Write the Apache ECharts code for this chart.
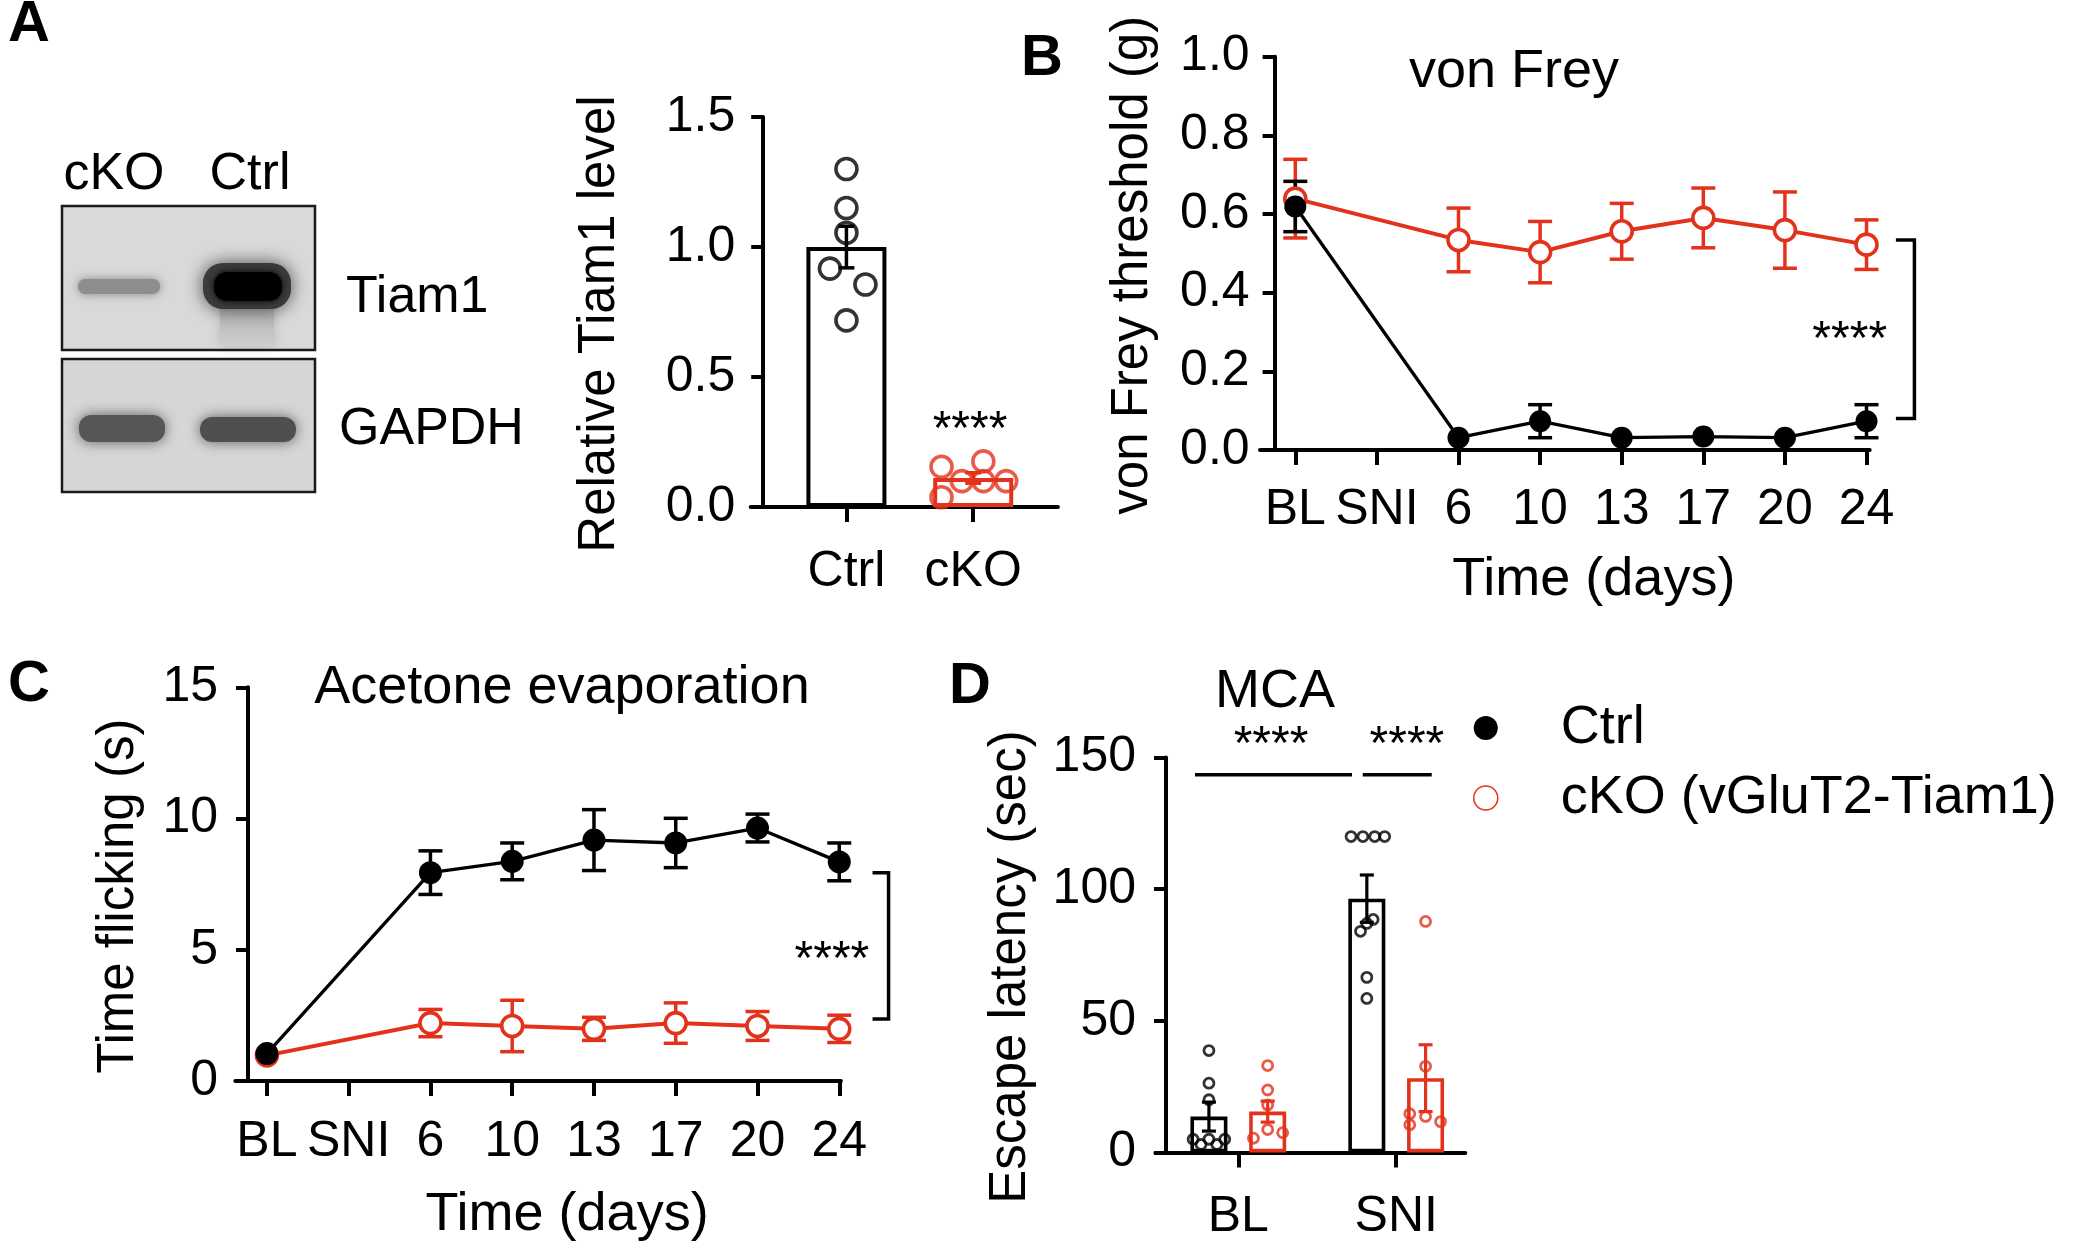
<!DOCTYPE html>
<html><head><meta charset="utf-8">
<script src="https://cdn.jsdelivr.net/npm/echarts@6/dist/echarts.min.js"></script>
<style>html,body{margin:0;padding:0;background:#fff}#c{width:2085px;height:1259px}</style>
</head><body><div id="c"></div>
<script>
// ---------- DATA ----------
// Panel A (relative Tiam1 level)
const aGroups = ['Ctrl', 'cKO'];
const aMeans = [1.0, 0.112];
const aSem = [0.08, 0.02];
const aCtrlPts = [1.30, 1.15, 1.055, 0.917, 0.856, 0.718];
const aCtrlJitter = [0, 0, 0, -0.13, 0.15, 0];
const aCkoPts = [0.155, 0.038, 0.10, 0.176, 0.10, 0.10];
const aCkoJitter = [-0.25, -0.25, -0.09, 0.08, 0.08, 0.26];
// Panels B, C (time course)
const days = ['BL', 'SNI', '6', '10', '13', '17', '20', '24'];
const bCtrl = [0.619, null, 0.031, 0.073, 0.031, 0.034, 0.031, 0.073];
const bCtrlSem = [0.064, null, 0, 0.042, 0, 0, 0, 0.042];
const bCko = [0.639, null, 0.534, 0.503, 0.556, 0.590, 0.559, 0.522];
const bCkoSem = [0.100, null, 0.081, 0.078, 0.071, 0.076, 0.097, 0.063];
const cCtrl = [1.05, null, 7.94, 8.37, 9.18, 9.07, 9.64, 8.35];
const cCtrlSem = [0, null, 0.83, 0.70, 1.16, 0.94, 0.53, 0.72];
const cCko = [0.98, null, 2.21, 2.10, 1.99, 2.21, 2.10, 1.99];
const cCkoSem = [0, null, 0.52, 0.98, 0.44, 0.77, 0.55, 0.52];
// Panel D (MCA escape latency)
const dGroups = ['BL', 'SNI'];
const dCtrlMean = [13.6, 96.4];
const dCtrlSem = [5.5, 9.0];
const dCkoMean = [15.5, 28.2];
const dCkoSem = [4.0, 12.7];
const dCtrlPts = [[38.7, 26.3, 20, 5, 5, 5, 3, 3], [120, 120, 120, 120, 88.5, 87, 84, 66.5, 58.5]];
const dCtrlJitter = [[0, 0, 0, -0.1, 0, 0.1, -0.05, 0.05], [-0.1, -0.025, 0.05, 0.113, 0.04, 0, -0.04, 0, 0]];
const dCkoPts = [[33, 23.7, 18, 5.4, 8.7, 7.5], [87.75, 32.7, 14.7, 10.5, 13.65, 11.7]];
const dCkoJitter = [[0, 0, 0, -0.09, 0, 0.095], [0, 0, -0.1, -0.1, 0, 0.095]];

// ---------- STYLE ----------
const RED = '#e3321c';
const FONT = '"Liberation Sans", Arial, Helvetica, sans-serif';
const DOFF = 0.186; // bar offset within a D group

function errBar(cap, colors, lw) {
  return function (params, api) {
    const x = api.value(0), m = api.value(1), s = api.value(2);
    if (!(s > 0)) return null;
    const t = api.coord([x, m + s]), b = api.coord([x, m - s]);
    const c = colors[params.dataIndex % colors.length];
    const st = { stroke: c, lineWidth: lw };
    return { type: 'group', children: [
      { type: 'line', shape: { x1: t[0], y1: t[1], x2: b[0], y2: b[1] }, style: st },
      { type: 'line', shape: { x1: t[0] - cap / 2, y1: t[1], x2: t[0] + cap / 2, y2: t[1] }, style: st },
      { type: 'line', shape: { x1: b[0] - cap / 2, y1: b[1], x2: b[0] + cap / 2, y2: b[1] }, style: st }
    ] };
  };
}
function sigText(params, api) {
  const p = api.coord([api.value(0), api.value(1)]);
  return { type: 'text', x: p[0], y: p[1] + 11, style: { text: '****', fontSize: 48, fontFamily: FONT, fill: '#000', align: 'center', verticalAlign: 'middle' } };
}
function bracket(params, api) {
  const a = api.coord([api.value(0), api.value(3)]);
  const l = api.coord([api.value(1), api.value(2)]);
  return { type: 'polyline', shape: { points: [[a[0], a[1]], [l[0], a[1]], [l[0], l[1]], [a[0], l[1]]] }, style: { stroke: '#000', lineWidth: 3.5, fill: null } };
}
function hLine(params, api) {
  const p1 = api.coord([api.value(0), api.value(2)]);
  const p2 = api.coord([api.value(1), api.value(2)]);
  return { type: 'line', shape: { x1: p1[0], y1: p1[1], x2: p2[0], y2: p2[1] }, style: { stroke: '#000', lineWidth: 3.5 } };
}
function yAx(grid, min, max, interval, offset, name, nameGap, fmt, margin) {
  return {
    type: 'value', gridIndex: grid, min: min, max: max, interval: interval, offset: offset,
    name: name, nameLocation: 'middle', nameGap: nameGap, nameMoveOverlap: false,
    nameTextStyle: { fontSize: 51, color: '#000', fontFamily: FONT, padding: [0, 24, 0, 0] },
    axisLine: { show: true, onZero: false, lineStyle: { color: '#000', width: 4 } },
    axisTick: { show: true, length: 12, lineStyle: { color: '#000', width: 4 } },
    axisLabel: { show: true, fontSize: 50, color: '#000', fontFamily: FONT, margin: margin, formatter: fmt },
    splitLine: { show: false }
  };
}
function xAx(grid, min, max, ticks, names, margin, name, nameGap) {
  return {
    type: 'value', gridIndex: grid, min: min, max: max,
    name: name || '', nameLocation: 'middle', nameGap: nameGap || 0, nameMoveOverlap: false,
    nameTextStyle: { fontSize: 54, color: '#000', fontFamily: FONT, padding: [0, 0, 0, 58] },
    axisLine: { show: true, onZero: false, lineStyle: { color: '#000', width: 4 } },
    axisTick: { show: true, length: 15, customValues: ticks, lineStyle: { color: '#000', width: 4 } },
    axisLabel: { show: true, customValues: ticks, fontSize: 50, color: '#000', fontFamily: FONT, margin: margin,
      formatter: v => names[Math.round(v)] },
    splitLine: { show: false }
  };
}
const pairs = (vals, sems) => vals.map((v, i) => v == null ? null : (sems ? [i, v, sems[i]] : [i, v])).filter(Boolean);
const idx = arr => arr.map((_, i) => i);

// ---------- blot (image-like panel, drawn as graphics) ----------
const blot = [
  { type: 'rect', shape: { x: 62, y: 206, width: 253, height: 144 }, style: { fill: '#d9d9d9' } },
  { type: 'rect', shape: { x: 62, y: 359, width: 253, height: 133 }, style: { fill: '#d6d6d6' } },
  // Tiam1 cKO band
  { type: 'rect', shape: { x: 78, y: 279, width: 82, height: 15, r: 7 }, style: { fill: '#8e8e8e', shadowBlur: 10, shadowColor: 'rgba(125,125,125,0.9)' } },
  // Tiam1 Ctrl smear + band
  { type: 'rect', shape: { x: 220, y: 298, width: 54, height: 48 }, style: { fill: { type: 'linear', x: 0, y: 0, x2: 0, y2: 1, colorStops: [{ offset: 0, color: '#a8a8a8' }, { offset: 1, color: '#cfcfcf' }] }, shadowBlur: 10, shadowColor: 'rgba(180,180,180,0.9)' } },
  { type: 'rect', shape: { x: 203, y: 263, width: 88, height: 46, r: 20 }, style: { fill: '#3a3a3a', shadowBlur: 18, shadowColor: 'rgba(60,60,60,0.9)' } },
  { type: 'rect', shape: { x: 214, y: 272, width: 68, height: 29, r: 13 }, style: { fill: '#000', shadowBlur: 6, shadowColor: '#000' } },
  // GAPDH bands
  { type: 'rect', shape: { x: 79, y: 415, width: 86, height: 27, r: 12 }, style: { fill: '#565656', shadowBlur: 14, shadowColor: 'rgba(80,80,80,0.9)' } },
  { type: 'rect', shape: { x: 200, y: 417, width: 96, height: 25, r: 12 }, style: { fill: '#4f4f4f', shadowBlur: 14, shadowColor: 'rgba(80,80,80,0.9)' } },
  // frames
  { type: 'rect', shape: { x: 62, y: 206, width: 253, height: 144 }, style: { fill: null, stroke: '#1a1a1a', lineWidth: 2.5 } },
  { type: 'rect', shape: { x: 62, y: 359, width: 253, height: 133 }, style: { fill: null, stroke: '#1a1a1a', lineWidth: 2.5 } }
];
function txt(x, y, s, size, opts) {
  return Object.assign({ type: 'text', x: x, y: y, z: 10, style: { text: s, fontSize: size, fontFamily: FONT, fill: '#000', align: 'center', verticalAlign: 'middle' } }, opts || {});
}
const labels = [
  txt(29, 25, 'A', 58), txt(1042, 59, 'B', 58), txt(29, 685, 'C', 58), txt(970, 687, 'D', 58),
  txt(114, 175, 'cKO', 52), txt(250, 175, 'Ctrl', 52),
  txt(346, 298, 'Tiam1', 52), txt(339, 430, 'GAPDH', 52),
  txt(1514, 72, 'von Frey', 54), txt(562, 688, 'Acetone evaporation', 54), txt(1275, 692, 'MCA', 54)
];
labels.slice(0, 4).forEach(l => { l.style.fontWeight = 'bold'; });
labels.slice(6, 8).forEach(l => { l.style.align = 'left'; });

const option = {
  animation: false,
  backgroundColor: '#fff',
  textStyle: { fontFamily: FONT },
  graphic: { elements: blot.concat(labels) },
  legend: {
    orient: 'vertical', left: 1473, top: 698, padding: 0, itemGap: 10,
    itemWidth: 24, itemHeight: 24, selectedMode: false,
    textStyle: { fontSize: 54, color: '#000', fontFamily: FONT, lineHeight: 60, padding: [0, 0, 0, 58] },
    data: [
      { name: 'Ctrl', icon: 'circle', itemStyle: { color: '#000', borderWidth: 0 } },
      { name: 'cKO (vGluT2-Tiam1)', icon: 'circle', itemStyle: { color: '#fff', borderColor: RED, borderWidth: 1.5 } }
    ]
  },
  grid: [
    { left: 750.7, top: 117, width: 307.2, height: 390.1, outerBoundsMode: 'none' },
    { left: 1260, top: 56.7, width: 609.7, height: 393.2, outerBoundsMode: 'none' },
    { left: 235.3, top: 687.3, width: 605.6, height: 393.8, outerBoundsMode: 'none' },
    { left: 1155.4, top: 757.6, width: 309.9, height: 394.8, outerBoundsMode: 'none' }
  ],
  xAxis: [
    xAx(0, -0.755, 1.668, idx(aGroups), aGroups, 40),
    xAx(1, -0.4326, 7.039, idx(days), days, 35, 'Time (days)', 103),
    xAx(2, -0.3865, 7.02, idx(days), days, 36, 'Time (days)', 107),
    xAx(3, -0.525, 1.4376, idx(dGroups), dGroups, 40)
  ],
  yAxis: [
    yAx(0, 0, 1.5, 0.5, -12.5, 'Relative Tiam1 level', 138, v => v.toFixed(1), 28),
    yAx(1, 0, 1.0, 0.2, -14.6, 'von Frey threshold (g)', 116, v => v.toFixed(1), 25),
    yAx(2, 0, 15, 5, -12.7, 'Time flicking (s)', 104, v => String(v), 30),
    yAx(3, 0, 150, 50, -10.6, 'Escape latency (sec)', 130, v => String(v), 30)
  ],
  series: [
    // ----- A -----
    { type: 'bar', xAxisIndex: 0, yAxisIndex: 0, barWidth: 80, z: 1,
      data: aMeans.map((m, i) => ({ value: [i, m], itemStyle: { color: '#fff', borderColor: i === 0 ? '#000' : RED, borderWidth: 4 } })) },
    { type: 'custom', xAxisIndex: 0, yAxisIndex: 0, z: 2, renderItem: errBar(16, ['#000', RED], 3.5),
      data: aMeans.map((m, i) => [i, m, aSem[i]]) },
    { type: 'scatter', xAxisIndex: 0, yAxisIndex: 0, z: 3, symbol: 'circle', symbolSize: 21,
      itemStyle: { color: 'rgba(0,0,0,0)', borderColor: '#000', borderWidth: 3.6 },
      data: aCtrlPts.map((v, k) => [0 + aCtrlJitter[k], v]) },
    { type: 'scatter', xAxisIndex: 0, yAxisIndex: 0, z: 3, symbol: 'circle', symbolSize: 21,
      itemStyle: { color: 'rgba(0,0,0,0)', borderColor: RED, borderWidth: 3.6 },
      data: aCkoPts.map((v, k) => [1 + aCkoJitter[k], v]) },
    { type: 'custom', xAxisIndex: 0, yAxisIndex: 0, z: 4, renderItem: sigText, data: [[0.975, 0.335]] },
    // ----- B -----
    { type: 'custom', xAxisIndex: 1, yAxisIndex: 1, z: 1, renderItem: errBar(24, [RED], 3.5), data: pairs(bCko, bCkoSem) },
    { type: 'custom', xAxisIndex: 1, yAxisIndex: 1, z: 1, renderItem: errBar(24, ['#000'], 3.5), data: pairs(bCtrl, bCtrlSem) },
    { name: 'cKO (vGluT2-Tiam1)', type: 'line', xAxisIndex: 1, yAxisIndex: 1, z: 3, symbol: 'circle', symbolSize: 21,
      lineStyle: { color: RED, width: 4 }, itemStyle: { color: '#fff', borderColor: RED, borderWidth: 3.6 },
      data: pairs(bCko) },
    { name: 'Ctrl', type: 'line', xAxisIndex: 1, yAxisIndex: 1, z: 4, symbol: 'circle', symbolSize: 22,
      lineStyle: { color: '#000', width: 3.3 }, itemStyle: { color: '#000', borderWidth: 0 },
      data: pairs(bCtrl) },
    { type: 'custom', xAxisIndex: 1, yAxisIndex: 1, z: 4, renderItem: bracket, data: [[7.36, 7.587, 0.08, 0.534]] },
    { type: 'custom', xAxisIndex: 1, yAxisIndex: 1, z: 4, renderItem: sigText, data: [[6.794, 0.305]] },
    // ----- C -----
    { type: 'custom', xAxisIndex: 2, yAxisIndex: 2, z: 1, renderItem: errBar(24, [RED], 3.5), data: pairs(cCko, cCkoSem) },
    { type: 'custom', xAxisIndex: 2, yAxisIndex: 2, z: 1, renderItem: errBar(24, ['#000'], 3.5), data: pairs(cCtrl, cCtrlSem) },
    { name: 'cKO (vGluT2-Tiam1)', type: 'line', xAxisIndex: 2, yAxisIndex: 2, z: 3, symbol: 'circle', symbolSize: 21,
      lineStyle: { color: RED, width: 4 }, itemStyle: { color: '#fff', borderColor: RED, borderWidth: 3.6 },
      data: pairs(cCko) },
    { name: 'Ctrl', type: 'line', xAxisIndex: 2, yAxisIndex: 2, z: 4, symbol: 'circle', symbolSize: 23,
      lineStyle: { color: '#000', width: 3.3 }, itemStyle: { color: '#000', borderWidth: 0 },
      data: pairs(cCtrl) },
    { type: 'custom', xAxisIndex: 2, yAxisIndex: 2, z: 4, renderItem: bracket, data: [[7.407, 7.603, 2.37, 7.94]] },
    { type: 'custom', xAxisIndex: 2, yAxisIndex: 2, z: 4, renderItem: sigText, data: [[6.91, 4.99]] },
    // ----- D -----
    { type: 'bar', xAxisIndex: 3, yAxisIndex: 3, barWidth: 37, z: 1,
      data: dGroups.flatMap((g, i) => [
        { value: [i - DOFF, dCtrlMean[i]], itemStyle: { color: '#fff', borderColor: '#000', borderWidth: 3.6 } },
        { value: [i + DOFF, dCkoMean[i]], itemStyle: { color: '#fff', borderColor: RED, borderWidth: 3.6 } }
      ]) },
    { type: 'custom', xAxisIndex: 3, yAxisIndex: 3, z: 2, renderItem: errBar(14, ['#000', RED], 3.2),
      data: dGroups.flatMap((g, i) => [[i - DOFF, dCtrlMean[i], dCtrlSem[i]], [i + DOFF, dCkoMean[i], dCkoSem[i]]]) },
    { type: 'scatter', xAxisIndex: 3, yAxisIndex: 3, z: 3, symbol: 'circle', symbolSize: 10,
      itemStyle: { color: 'rgba(0,0,0,0)', borderColor: '#000', borderWidth: 2.8 },
      data: dGroups.flatMap((g, i) => dCtrlPts[i].map((v, k) => [i - DOFF + dCtrlJitter[i][k], v])) },
    { type: 'scatter', xAxisIndex: 3, yAxisIndex: 3, z: 3, symbol: 'circle', symbolSize: 10,
      itemStyle: { color: 'rgba(0,0,0,0)', borderColor: RED, borderWidth: 2.8 },
      data: dGroups.flatMap((g, i) => dCkoPts[i].map((v, k) => [i + DOFF + dCkoJitter[i][k], v])) },
    { type: 'custom', xAxisIndex: 3, yAxisIndex: 3, z: 4, renderItem: hLine, data: [[-0.274, 0.72, 143.5], [0.788, 1.225, 143.5]] },
    { type: 'custom', xAxisIndex: 3, yAxisIndex: 3, z: 4, renderItem: sigText, data: [[0.207, 158.6], [1.068, 158.6]] }
  ]
};
const chart = echarts.init(document.getElementById('c'), null, { renderer: 'canvas' });
chart.setOption(option);
</script>
</body></html>
